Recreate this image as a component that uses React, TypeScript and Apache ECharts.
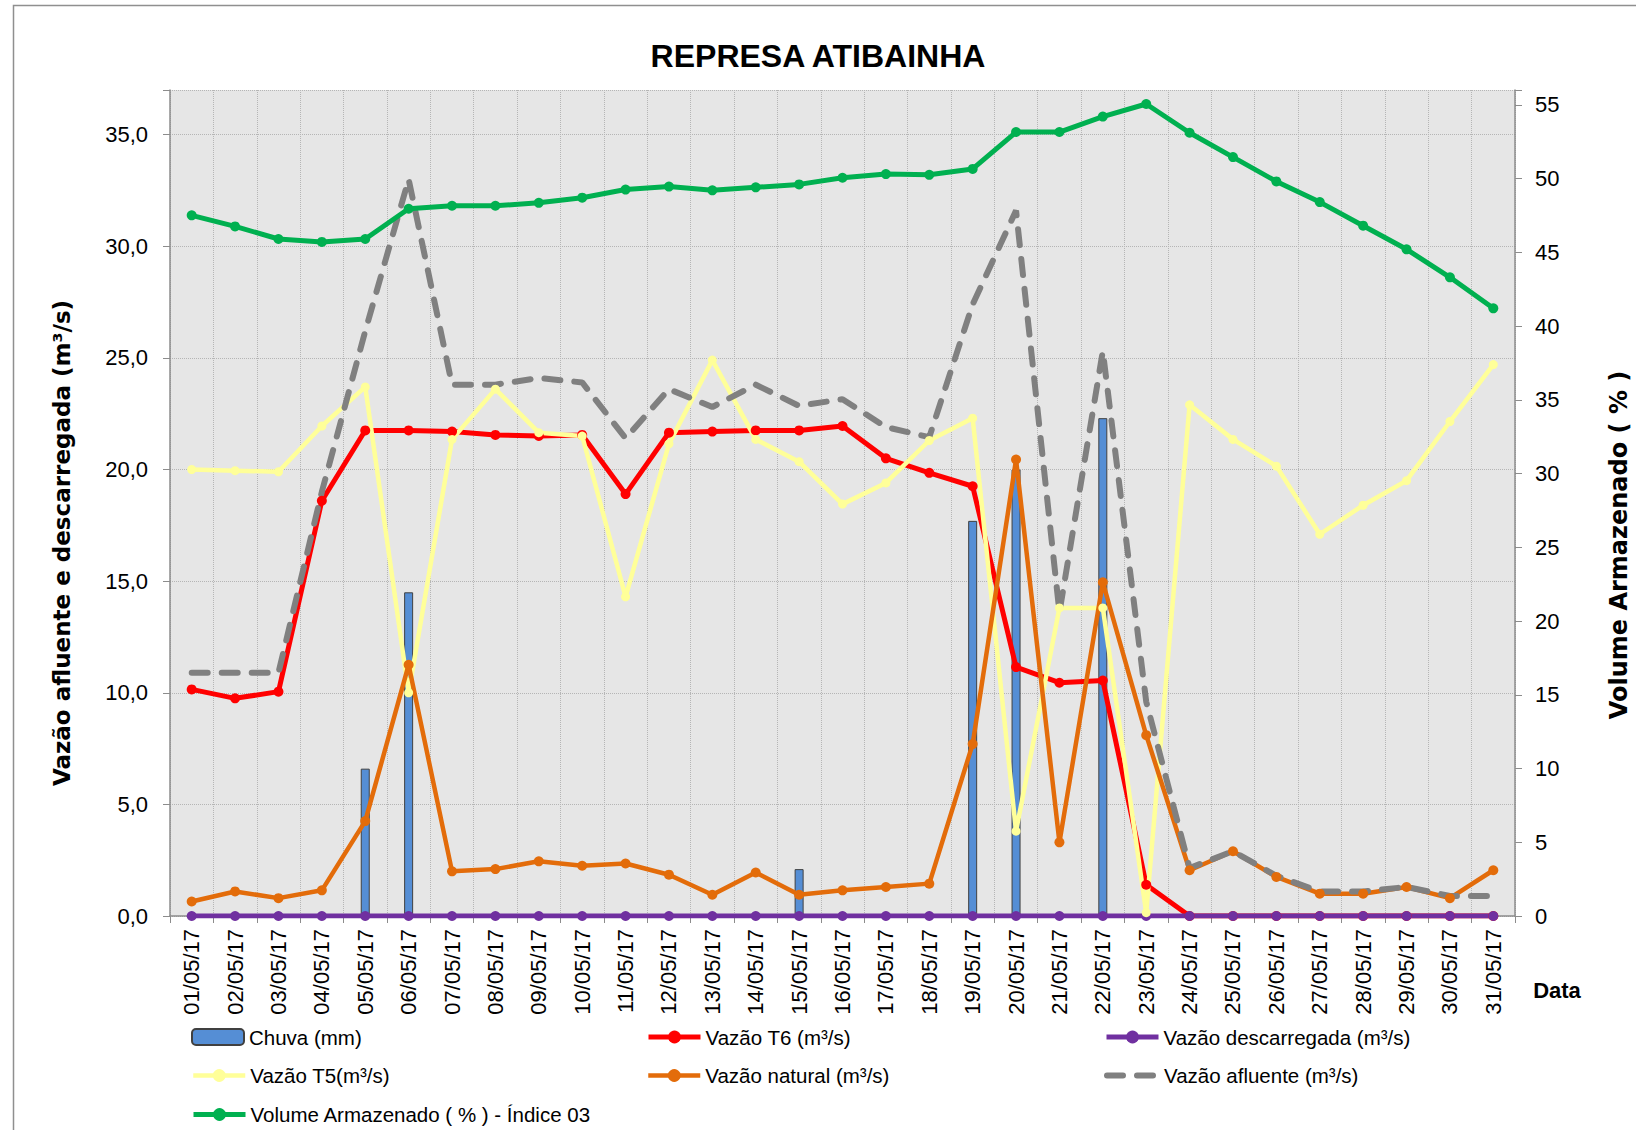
import React, { useEffect, useRef } from "react";
import * as echarts from "echarts";

const categories = [
  "01/05/17", "02/05/17", "03/05/17", "04/05/17", "05/05/17", "06/05/17", "07/05/17", "08/05/17",
  "09/05/17", "10/05/17", "11/05/17", "12/05/17", "13/05/17", "14/05/17", "15/05/17", "16/05/17",
  "17/05/17", "18/05/17", "19/05/17", "20/05/17", "21/05/17", "22/05/17", "23/05/17", "24/05/17",
  "25/05/17", "26/05/17", "27/05/17", "28/05/17", "29/05/17", "30/05/17", "31/05/17",
];

const chuva = [0, 0, 0, 0, 6.6, 14.5, 0, 0, 0, 0, 0, 0, 0, 0, 2.1, 0, 0, 0, 17.7, 20.0, 0, 22.3, 0, 0, 0, 0, 0, 0, 0, 0, 0];

const vazaoT6 = [10.15, 9.75, 10.05, 18.6, 21.75, 21.75, 21.7, 21.55, 21.5, 21.55, 18.9, 21.65, 21.7, 21.75, 21.75, 21.95,
  20.5, 19.85, 19.25, 11.15, 10.45, 10.55, 1.4, 0, 0, 0, 0, 0, 0, 0, 0];

const vazaoDescarregada = [0, 0, 0, 0, 0, 0, 0, 0, 0, 0, 0, 0, 0, 0, 0, 0, 0, 0, 0, 0, 0, 0, 0, 0, 0, 0, 0, 0, 0, 0, 0];

const vazaoT5 = [20.0, 19.95, 19.9, 21.95, 23.7, 10.0, 21.35, 23.6, 21.65, 21.5, 14.3, 21.15, 24.9, 21.35, 20.35, 18.45,
  19.4, 21.3, 22.3, 3.8, 13.8, 13.8, 0.15, 22.9, 21.35, 20.15, 17.1, 18.4, 19.5, 22.15, 24.7];

const vazaoNatural = [0.65, 1.1, 0.8, 1.15, 4.25, 11.25, 2.0, 2.1, 2.45, 2.25, 2.35, 1.85, 0.95, 1.95, 0.95, 1.15,
  1.3, 1.45, 7.7, 20.45, 3.3, 14.95, 8.1, 2.05, 2.9, 1.75, 1.0, 1.0, 1.3, 0.8, 2.05];

const vazaoAfluente = [10.9, 10.9, 10.9, 19.0, 26.2, 33.0, 23.8, 23.8, 24.1, 23.9, 21.4, 23.6, 22.8, 23.8, 22.85, 23.15,
  21.9, 21.45, 27.4, 31.6, 13.6, 25.3, 9.6, 2.15, 2.9, 1.8, 1.1, 1.1, 1.3, 0.9, 0.9];

const volume = [47.5, 46.75, 45.9, 45.7, 45.9, 47.95, 48.15, 48.15, 48.35, 48.7, 49.25, 49.45, 49.2, 49.4, 49.6, 50.05,
  50.3, 50.25, 50.65, 53.15, 53.15, 54.2, 55.05, 53.1, 51.45, 49.8, 48.4, 46.8, 45.2, 43.3, 41.2];

const NAMES = {
  chuva: "Chuva (mm)",
  t6: "Vazão T6 (m³/s)",
  desc: "Vazão descarregada (m³/s)",
  t5: "Vazão T5(m³/s)",
  nat: "Vazão natural (m³/s)",
  afl: "Vazão afluente (m³/s)",
  vol: "Volume Armazenado ( % ) - Índice 03",
};

const FONT = "Liberation Sans";
const AXIS_COLOR = "#8C8C8C";
const GRID_COLOR = "#B5B5B5";

function legendAt(name: string, left: number, centerY: number, hideSymbol = false) {
  return {
    data: [name],
    left,
    top: centerY - 11,
    orient: "horizontal",
    itemWidth: 52,
    itemHeight: 16,
    itemGap: 0,
    padding: 0,
    selectedMode: false,
    lineStyle: { width: "inherit" },
    itemStyle: hideSymbol ? { opacity: 0 } : {},
    textStyle: { fontFamily: FONT, fontSize: 20.5, color: "#000", lineHeight: 22 },
  };
}

function lineSeries(name: string, data: number[], color: string, width: number, sym: number, yAxisIndex = 0) {
  return {
    name,
    type: "line",
    data,
    yAxisIndex,
    symbol: "circle",
    symbolSize: sym,
    showSymbol: true,
    showAllSymbol: true,
    lineStyle: { color, width },
    itemStyle: { color },
    emphasis: { disabled: true },
  };
}

export default function App() {
  const ref = useRef<HTMLDivElement>(null);

  useEffect(() => {
    if (!ref.current) return;
    const chart = echarts.init(ref.current, undefined, { renderer: "svg" });
    const option: any = {
      animation: false,
      backgroundColor: "#FFFFFF",
      title: {
        text: "REPRESA ATIBAINHA",
        left: "center",
        top: 35,
        textStyle: { fontFamily: FONT, fontWeight: "bold", fontSize: 32, color: "#000" },
      },
      grid: {
        left: 170,
        right: 121,
        top: 90,
        bottom: 214,
        show: true,
        backgroundColor: "#E6E6E6",
        borderWidth: 0,
        containLabel: false,
        outerBoundsMode: "none",
      },
      legend: [
        legendAt(NAMES.chuva, 191, 1037),
        legendAt(NAMES.t6, 646, 1037),
        legendAt(NAMES.desc, 1104, 1037),
        legendAt(NAMES.t5, 191, 1075.5),
        legendAt(NAMES.nat, 646, 1075.5),
        legendAt(NAMES.afl, 1104, 1075.5, true),
        legendAt(NAMES.vol, 191, 1114.5),
      ],
      xAxis: {
        type: "category",
        data: categories,
        boundaryGap: true,
        axisLine: { show: true, lineStyle: { color: AXIS_COLOR, width: 1.5 } },
        axisTick: { show: true, length: 7, alignWithLabel: false, interval: 0, lineStyle: { color: AXIS_COLOR } },
        axisLabel: { rotate: 90, interval: 0, margin: 13, fontFamily: FONT, fontSize: 22, color: "#000" },
        splitLine: { show: true, interval: 0, lineStyle: { type: "dotted", color: GRID_COLOR, width: 1 } },
      },
      yAxis: [
        {
          type: "value",
          position: "left",
          min: 0,
          max: 37,
          interval: 5,
          axisLine: { show: true, lineStyle: { color: AXIS_COLOR, width: 1.5 } },
          axisTick: { show: true, length: 7, lineStyle: { color: AXIS_COLOR } },
          axisLabel: {
            margin: 22,
            fontFamily: FONT,
            fontSize: 22,
            color: "#000",
            formatter: (v: number) => (v % 5 === 0 ? v.toFixed(1).replace(".", ",") : ""),
          },
          splitLine: { show: true, lineStyle: { type: "dotted", color: GRID_COLOR, width: 1 } },
        },
        {
          type: "value",
          position: "right",
          min: 0,
          max: 56,
          interval: 5,
          axisLine: { show: true, lineStyle: { color: AXIS_COLOR, width: 1.5 } },
          axisTick: { show: true, length: 7, lineStyle: { color: AXIS_COLOR } },
          axisLabel: {
            margin: 20,
            fontFamily: FONT,
            fontSize: 22,
            color: "#000",
            formatter: (v: number) => (v % 5 === 0 ? String(v) : ""),
          },
          splitLine: { show: false },
        },
      ],
      graphic: [
        {
          type: "rect",
          silent: true,
          shape: { x: 13.5, y: 5.5, width: 1800, height: 1300 },
          style: { fill: "none", stroke: "#8F8F8F", lineWidth: 1.5 },
        },
        {
          type: "text",
          x: 62,
          y: 543,
          rotation: Math.PI / 2,
          style: {
            text: "Vazão afluente e descarregada (m³/s)",
            fontFamily: "DejaVu Sans",
            fontWeight: "bold",
            fontSize: 23,
            fill: "#000",
            align: "center",
            verticalAlign: "middle",
            textAlign: "center",
            textVerticalAlign: "middle",
          },
        },
        {
          type: "text",
          x: 1619,
          y: 545,
          rotation: Math.PI / 2,
          style: {
            text: "Volume Armazenado ( % )",
            fontFamily: "DejaVu Sans",
            fontWeight: "bold",
            fontSize: 24,
            fill: "#000",
            align: "center",
            verticalAlign: "middle",
            textAlign: "center",
            textVerticalAlign: "middle",
          },
        },
        {
          type: "text",
          x: 1557,
          y: 990,
          style: {
            text: "Data",
            fontFamily: FONT,
            fontWeight: "bold",
            fontSize: 22,
            fill: "#000",
            align: "center",
            verticalAlign: "middle",
            textAlign: "center",
            textVerticalAlign: "middle",
          },
        },
      ],
      series: [
        {
          name: NAMES.chuva,
          type: "bar",
          data: chuva,
          yAxisIndex: 0,
          barWidth: 9,
          itemStyle: { color: "#558ED5", borderColor: "#404040", borderWidth: 1 },
          emphasis: { disabled: true },
        },
        lineSeries(NAMES.t6, vazaoT6, "#FF0000", 5, 10),
        lineSeries(NAMES.desc, vazaoDescarregada, "#7030A0", 5, 10),
        lineSeries(NAMES.t5, vazaoT5, "#FFFF99", 4.5, 9),
        lineSeries(NAMES.nat, vazaoNatural, "#E36C0A", 4.5, 10),
        {
          name: NAMES.afl,
          type: "line",
          data: vazaoAfluente,
          yAxisIndex: 0,
          symbol: "none",
          showSymbol: false,
          lineStyle: { color: "#808080", width: 6, type: [16, 14], cap: "round" },
          itemStyle: { color: "#808080" },
          emphasis: { disabled: true },
        },
        lineSeries(NAMES.vol, volume, "#00B050", 5, 10, 1),
      ],
    };
    chart.setOption(option);
    return () => chart.dispose();
  }, []);

  return (
    <div
      ref={ref}
      style={{ position: "absolute", left: 0, top: 0, width: 1636, height: 1130 }}
    />
  );
}
